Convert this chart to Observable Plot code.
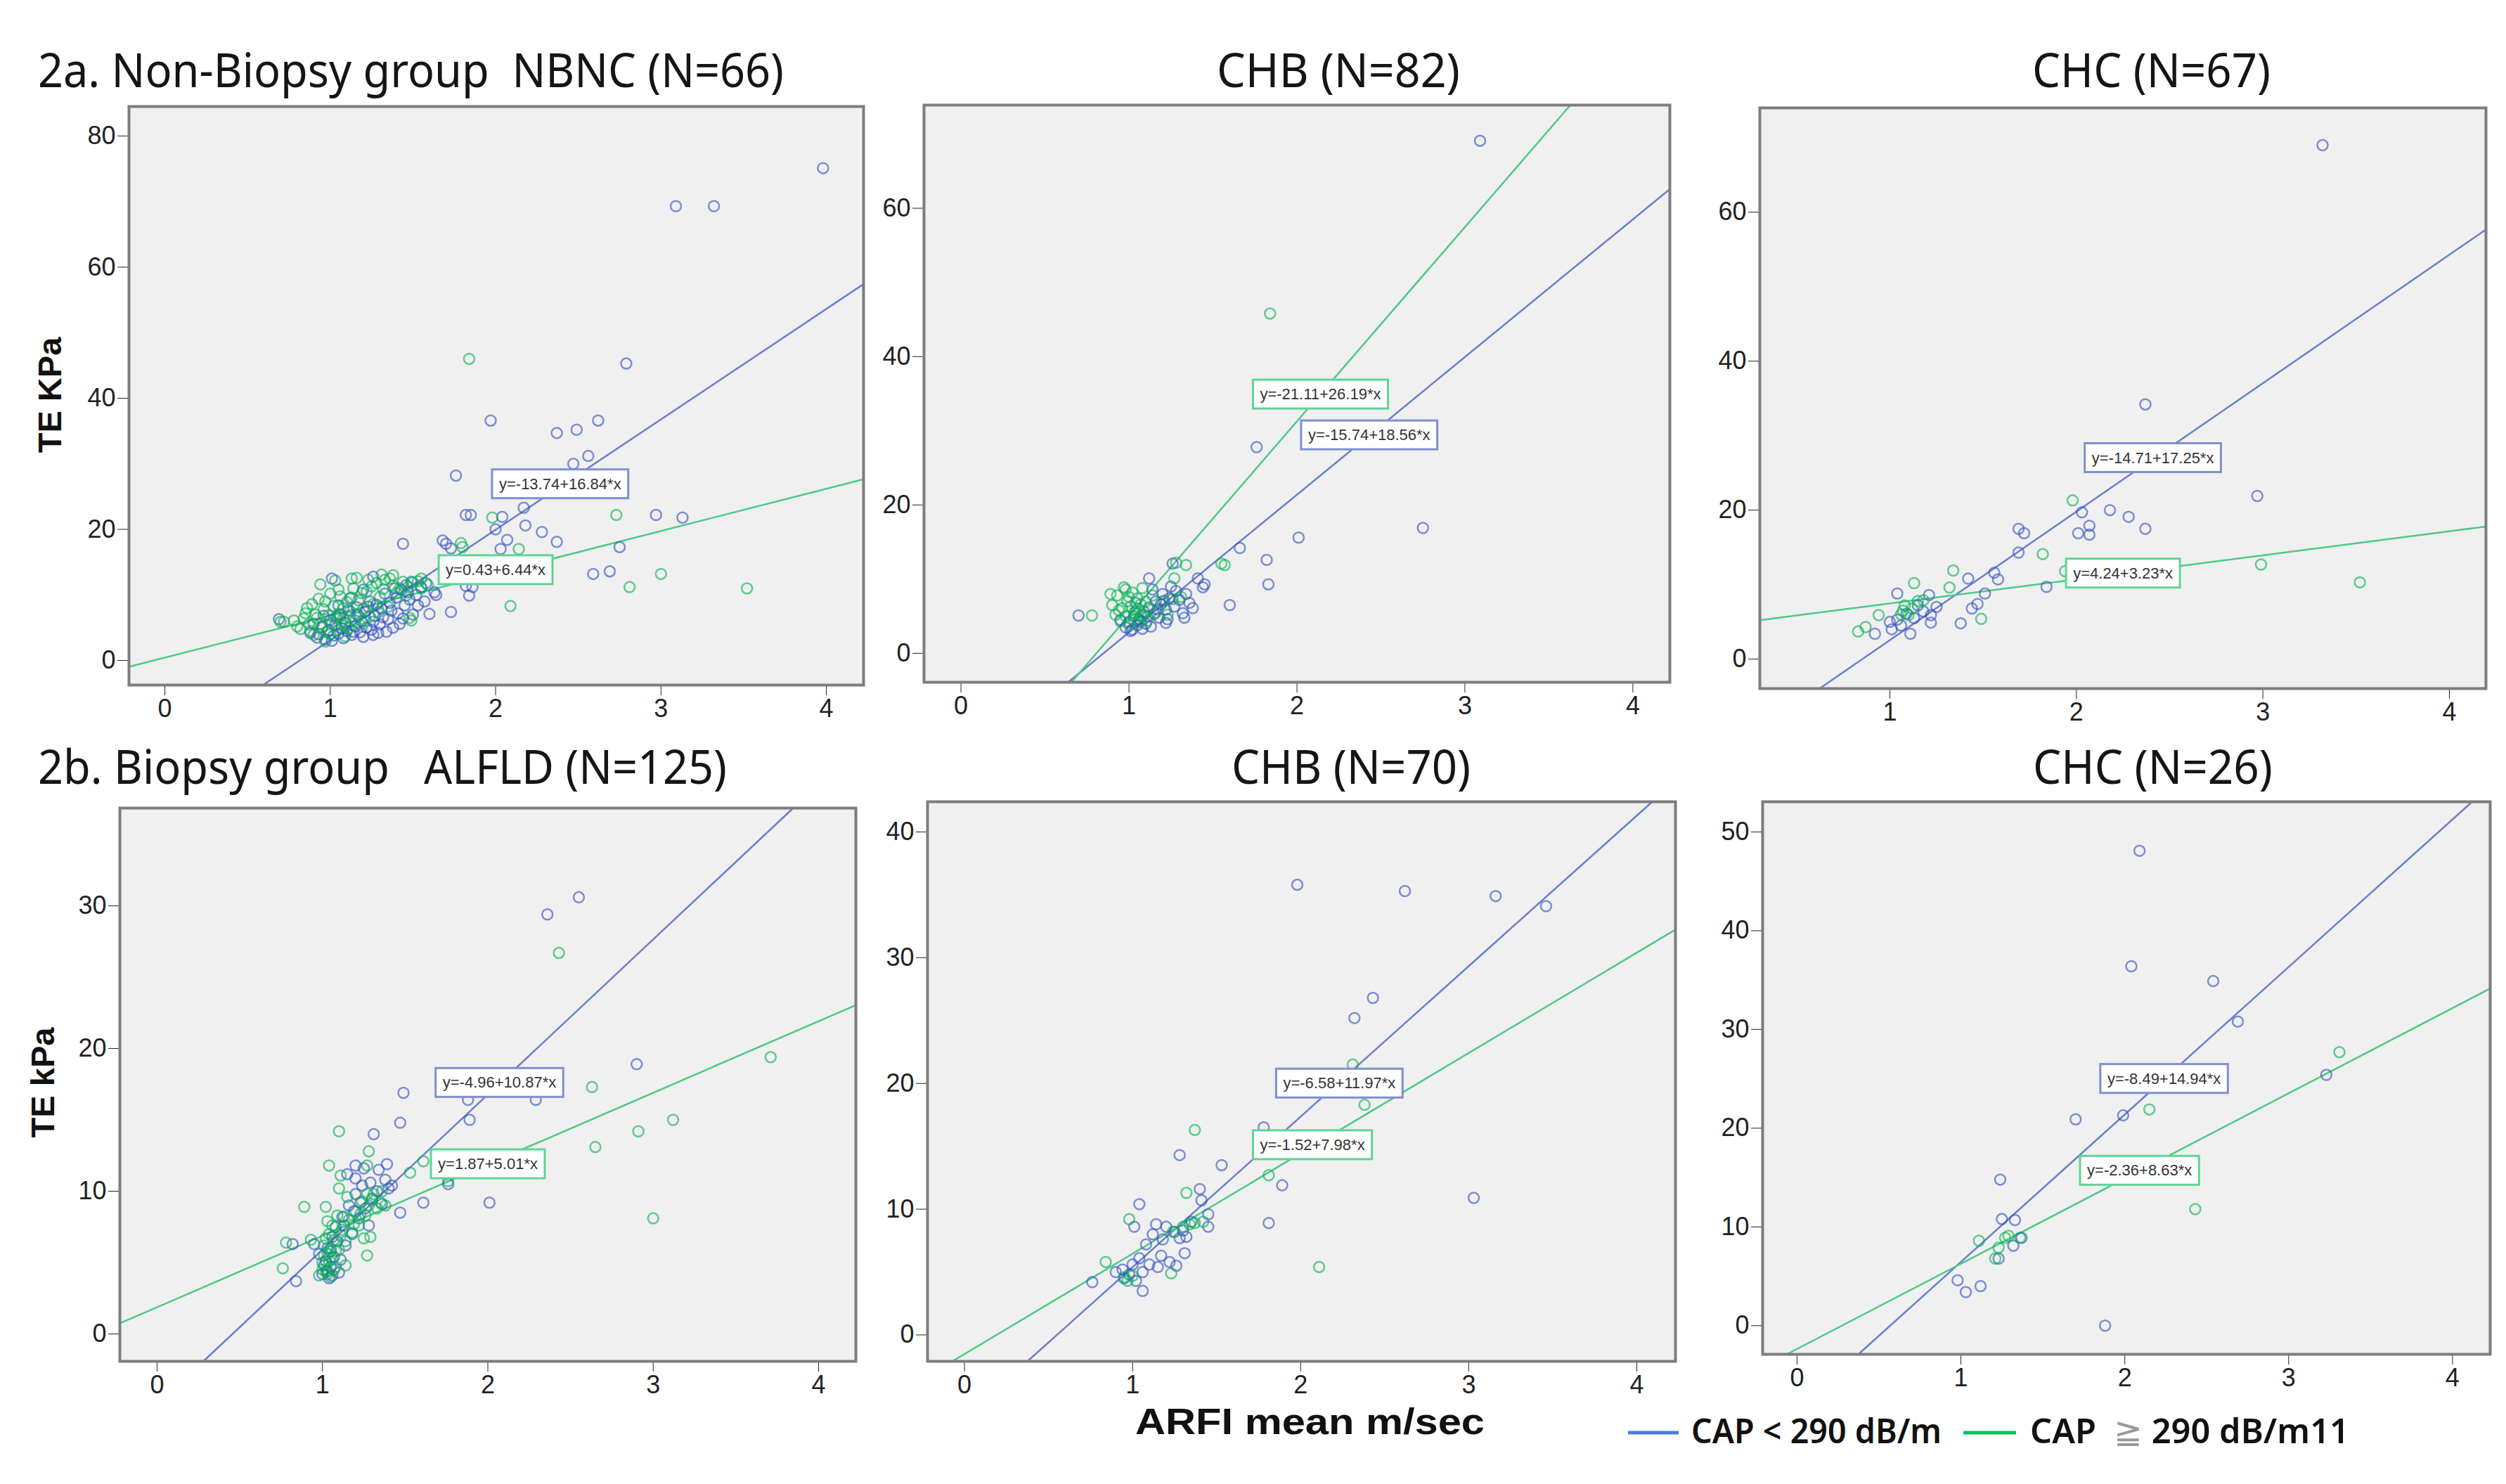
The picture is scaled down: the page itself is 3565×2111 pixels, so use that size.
<!DOCTYPE html>
<html><head><meta charset="utf-8">
<script src="https://cdn.jsdelivr.net/npm/d3@7"></script>
<script src="https://cdn.jsdelivr.net/npm/@observablehq/plot@0.6"></script>
<style>
body{margin:0;background:#fff}
#page{position:relative;width:3565px;height:2111px;overflow:hidden;background:#fff}
#page svg{position:absolute}
</style>
</head><body><div id="page"></div>
<script>
// ---------- data (ARFI mean m/sec, TE kPa) ----------
const xTicks = [0, 1, 2, 3, 4];
const xTicksCHC1 = [1, 2, 3, 4];

// 2a NBNC
const nbncBlue = [[3.98,75.1],[3.09,69.3],[3.32,69.3],[2.79,45.3],[1.97,36.6],[2.37,34.7],[2.49,35.2],[2.62,36.6],[2.56,31.2],[2.47,30.0],[1.76,28.2],[1.82,22.2],[1.85,22.2],[2.04,21.9],[2.17,23.3],[2.18,20.6],[2.28,19.6],[2.37,18.1],[2.97,22.2],[3.13,21.8],[2.75,17.3],[2.59,13.2],[2.69,13.6],[2.03,17.0],[2.07,18.4],[1.70,17.8],[1.73,17.1],[1.44,17.8],[1.84,9.9],[1.86,11.2],[1.64,10.0],[1.60,7.1],[1.73,7.4],[1.01,12.5],[1.26,12.8],[1.63,10.4],[1.82,11.4],[0.69,6.3],[1.68,18.3],[2.0,20.0],
[0.88,4.2],[0.92,3.5],[0.95,5.1],[0.97,3.2],[0.99,4.6],[1.0,6.2],[1.02,3.8],[1.03,5.4],[1.05,4.1],[1.06,7.0],[1.08,3.4],[1.09,5.8],[1.1,4.5],[1.12,6.6],[1.13,3.9],[1.15,5.2],[1.16,8.1],[1.18,4.3],[1.19,6.0],[1.21,7.4],[1.22,5.0],[1.24,9.0],[1.25,4.7],[1.27,6.8],[1.28,8.5],[1.3,5.5],[1.31,7.9],[1.33,10.2],[1.35,6.3],[1.36,8.8],[1.38,5.0],[1.4,9.6],[1.41,7.2],[1.43,10.8],[1.45,8.4],[1.46,11.5],[1.48,9.3],[1.5,7.0],[1.52,10.0],[1.55,11.2],[1.57,9.0],[1.12,9.5],[1.2,10.8],[1.26,3.9],[1.34,4.4],[1.42,5.6],[1.05,8.4],[0.96,6.8],
[0.9,5.6],[0.93,4.0],[1.01,3.0],[1.04,6.6],[1.07,4.9],[1.11,7.7],[1.14,4.4],[1.17,6.9],[1.2,3.6],[1.23,8.2],[1.26,5.9],[1.29,4.2],[1.32,6.6],[1.37,7.6],[1.39,11.0],[1.44,6.4],[1.47,10.4],[1.53,8.4],[1.58,11.8],[1.49,12.0]];
const nbncGreen = [[1.84,46.0],[1.98,21.8],[2.73,22.2],[2.14,17.0],[1.80,17.3],[3.0,13.2],[2.81,11.2],[3.52,11.0],[2.09,8.3],[1.55,11.0],[1.49,6.1],[1.13,12.5],[0.70,5.9],[1.79,17.9],[1.53,12.1],[1.48,6.5],[1.38,13.0],[1.31,13.1],
[0.72,5.9],[0.78,6.1],[0.82,4.8],[0.85,7.2],[0.87,5.5],[0.89,8.6],[0.9,3.9],[0.92,6.5],[0.93,9.4],[0.95,5.0],[0.96,7.8],[0.98,4.3],[0.99,6.9],[1.0,10.2],[1.01,5.7],[1.02,8.3],[1.04,4.6],[1.05,7.1],[1.06,9.8],[1.07,5.3],[1.08,6.4],[1.1,8.9],[1.11,4.9],[1.12,7.5],[1.14,11.0],[1.15,6.1],[1.17,9.2],[1.18,5.4],[1.2,7.9],[1.22,10.5],[1.24,6.7],[1.26,8.6],[1.28,11.8],[1.3,9.7],[1.33,12.3],[1.35,8.2],[1.38,11.4],[1.4,10.3],[1.44,12.0],[1.47,11.2],[1.5,11.9],[0.94,11.6],[1.03,12.2],[1.09,3.7],[0.97,2.9],
[0.8,5.2],[0.84,6.4],[0.86,8.0],[0.88,4.5],[0.91,7.0],[0.94,5.6],[0.97,9.0],[1.0,4.0],[1.03,6.5],[1.05,10.8],[1.08,8.0],[1.1,5.6],[1.13,9.6],[1.16,7.0],[1.19,10.3],[1.21,6.1],[1.25,11.3],[1.29,7.4],[1.32,10.9],[1.36,12.5],[1.42,11.0],[1.46,9.9],[1.55,12.5],[1.59,11.5],[1.16,12.6],[1.23,12.3]];

// 2a CHB
const chbABlue = [[3.09,69.1],[1.76,27.8],[2.01,15.6],[2.75,16.9],[1.82,12.6],[1.83,9.3],[1.66,14.2],[1.60,6.5],[1.44,8.9],[1.41,10.1],[1.12,10.1],[0.70,5.1],[1.33,4.8],[1.22,4.1],[1.38,6.1],[1.26,12.1],[1.45,9.3],
[0.98,3.5],[1.0,4.2],[1.02,3.2],[1.03,5.0],[1.05,3.8],[1.06,4.6],[1.08,3.3],[1.09,5.6],[1.1,4.0],[1.12,6.2],[1.13,3.6],[1.15,5.3],[1.16,7.0],[1.18,4.8],[1.19,6.6],[1.2,8.0],[1.22,5.9],[1.24,7.4],[1.25,9.0],[1.27,6.3],[1.28,8.4],[1.3,7.2],[1.32,5.4],[1.34,8.0],[1.36,6.8],[1.04,6.8],[0.95,4.5],[1.14,8.6],
[1.01,3.0],[1.07,4.3],[1.11,5.0],[1.17,5.9],[1.21,7.1],[1.23,4.6]];
const chbAGreen = [[1.84,45.8],[1.55,12.1],[1.57,11.9],[1.34,11.9],[1.27,10.1],[0.78,5.1],[0.89,8.0],[0.98,8.6],[1.28,12.2],[1.31,7.6],
[0.9,6.5],[0.92,5.2],[0.93,7.8],[0.95,4.3],[0.96,6.1],[0.97,8.9],[0.98,5.0],[0.99,7.0],[1.0,3.9],[1.01,6.3],[1.02,8.2],[1.03,4.6],[1.04,5.7],[1.05,7.4],[1.06,4.2],[1.07,6.6],[1.08,8.8],[1.09,5.2],[1.1,7.0],[1.11,4.4],[1.12,6.0],[1.14,7.8],[1.16,5.5],[1.2,6.9],[1.23,5.2],[1.26,7.3],
[0.94,5.8],[1.0,7.6],[1.03,5.4],[1.05,6.0],[1.07,5.0]];

// 2a CHC
const chcABlue = [[3.32,69.0],[2.37,34.2],[2.97,21.9],[2.03,19.7],[2.18,20.0],[2.28,19.1],[2.37,17.5],[2.07,17.9],[2.01,16.9],[2.07,16.7],[1.69,17.5],[1.72,16.9],[1.69,14.3],[1.58,10.7],[1.56,11.6],[1.84,9.7],[1.42,10.8],[1.51,8.8],[1.44,6.8],[1.38,4.8],[1.04,8.8],[1.21,8.6],[1.22,5.9],[1.22,4.9],[0.92,3.4],[1.01,4.0],[1.11,3.4],[1.04,5.3],[1.15,7.2],[1.06,4.5],[1.09,6.1],[1.18,6.4],[1.0,5.0],[1.13,5.5],[1.25,7.0],[1.47,7.4]];
const chcAGreen = [[1.98,21.3],[1.82,14.1],[1.94,11.8],[2.99,12.7],[3.52,10.3],[1.34,11.9],[1.32,9.6],[1.13,10.2],[1.49,5.4],[0.94,5.9],[0.87,4.3],[0.83,3.7],[1.07,6.5],[1.10,5.9],[1.15,7.8],[1.18,7.9],[1.08,7.2],[1.06,6.0],[1.12,6.8]];

// 2b ALFLD
const alfldBlue = [[2.55,30.6],[2.36,29.4],[2.90,18.9],[2.29,16.4],[1.88,16.4],[1.49,16.9],[1.47,14.8],[1.89,15.0],[1.31,14.0],[2.01,9.2],[1.76,10.5],[1.61,9.2],[1.47,8.5],[1.39,11.9],[1.20,11.8],[1.20,10.9],[0.82,6.3],[0.84,3.7],[1.40,10.2],
[1.0,4.2],[1.02,5.1],[1.03,6.0],[1.04,3.9],[1.05,4.7],[1.06,6.8],[1.07,5.4],[1.08,7.5],[1.1,4.3],[1.12,8.2],[1.14,6.2],[1.16,9.0],[1.18,7.0],[1.2,9.8],[1.22,8.1],[1.24,10.4],[1.26,8.8],[1.28,7.6],[1.3,9.5],[1.33,10.0],[1.36,9.1],[1.38,10.8],[0.95,6.3],[0.98,5.6],[1.15,11.2],[1.25,11.6],
[1.01,4.8],[1.03,4.4],[1.05,5.8],[1.06,4.1],[1.09,6.5],[1.11,5.2],[1.13,7.6],[1.19,8.6],[1.23,9.2],[1.29,10.6],[1.34,11.5],[1.42,10.4]];
const alfldGreen = [[2.43,26.7],[2.63,17.3],[3.71,19.4],[3.12,15.0],[2.91,14.2],[2.65,13.1],[3.00,8.1],[1.10,14.2],[1.04,11.8],[1.28,12.8],[1.27,11.8],[1.53,11.3],[1.61,12.1],[1.10,10.2],[1.11,11.1],[0.89,8.9],[0.76,4.6],[0.78,6.4],[1.27,5.5],[1.76,10.7],
[0.98,4.1],[1.0,5.0],[1.01,6.2],[1.02,4.4],[1.03,5.6],[1.04,7.0],[1.05,4.0],[1.06,5.3],[1.07,6.6],[1.08,4.7],[1.09,8.3],[1.1,5.9],[1.12,7.3],[1.14,6.5],[1.16,8.0],[1.18,7.1],[1.2,8.6],[1.22,7.6],[1.24,9.3],[1.26,8.3],[1.28,9.0],[1.3,9.4],[1.33,8.8],[1.35,9.2],[1.38,9.0],[1.02,8.9],[0.93,6.6],[1.14,4.8],[1.25,6.7],[1.29,6.8],
[1.0,4.5],[1.01,5.5],[1.02,6.7],[1.03,4.2],[1.04,5.1],[1.05,6.0],[1.06,7.6],[1.07,4.5],[1.08,5.8],[1.03,7.9],[1.11,6.9],[1.13,8.2],[1.19,7.7],[1.23,8.4],[1.31,9.8],[1.36,10.0],[1.15,9.6],[1.27,9.8]];

// 2b CHB
const chbBBlue = [[1.98,35.8],[2.62,35.3],[3.16,34.9],[3.46,34.1],[2.43,26.8],[2.32,25.2],[1.89,11.9],[3.03,10.9],[1.81,8.9],[1.53,13.5],[1.28,14.3],[1.40,11.6],[1.41,10.7],[1.04,10.4],[1.45,9.6],[1.45,8.6],[1.14,8.8],[1.01,8.6],[1.31,6.5],[1.17,6.3],[1.06,3.5],[0.76,4.2],[0.94,5.2],[1.78,16.5],
[0.9,5.0],[0.95,4.5],[0.98,4.8],[1.0,5.6],[1.02,4.3],[1.04,6.1],[1.06,5.0],[1.08,7.2],[1.1,5.6],[1.12,8.0],[1.15,5.4],[1.18,7.6],[1.2,8.6],[1.22,5.8],[1.25,8.2],[1.28,7.7],[1.3,8.3],[1.32,7.8],[1.35,9.0],[1.26,5.5]];
const chbBGreen = [[1.37,16.3],[2.38,18.3],[2.31,21.5],[2.11,5.4],[1.81,12.7],[1.32,11.3],[0.98,9.2],[0.84,5.8],[1.23,4.9],[1.34,8.8],[1.37,8.9],[0.95,4.6],[0.97,4.3],[1.0,4.7],[1.24,8.2],[1.3,8.6],[1.42,9.0]];

// 2b CHC
const chcBBlue = [[2.09,48.1],[2.04,36.4],[2.54,34.9],[2.69,30.8],[3.23,25.4],[1.99,21.3],[1.70,20.9],[1.24,14.8],[1.25,10.8],[1.33,10.7],[1.32,8.1],[1.37,8.9],[0.98,4.6],[1.03,3.4],[1.12,4.0],[1.88,0.0],[1.23,6.8]];
const chcBGreen = [[3.31,27.7],[2.15,21.9],[2.43,11.8],[1.11,8.6],[1.29,9.1],[1.27,8.9],[1.21,6.8],[1.23,7.9],[1.36,8.9]];

// regression fits [intercept, slope] (CAP<290 blue, CAP>=290 green)
const fitBlue  = [[-13.74,16.84],[-15.74,18.56],[-14.71,17.25],[-4.96,10.87],[-6.58,11.97],[-8.49,14.94]];
const fitGreen = [[0.43,6.44],[-21.11,26.19],[4.24,3.23],[1.87,5.01],[-1.52,7.98],[-2.36,8.63]];
const eqBlue  = ["y=-13.74+16.84*x","y=-15.74+18.56*x","y=-14.71+17.25*x","y=-4.96+10.87*x","y=-6.58+11.97*x","y=-8.49+14.94*x"];
const eqGreen = ["y=0.43+6.44*x","y=-21.11+26.19*x","y=4.24+3.23*x","y=1.87+5.01*x","y=-1.52+7.98*x","y=-2.36+8.63*x"];
// label anchor (data units)
const eqBluePos  = [[2.39,26.9],[2.43,29.4],[2.41,27.0],[2.07,17.6],[2.23,20.0],[2.24,25.0]];
const eqGreenPos = [[2.0,13.8],[2.14,34.9],[2.25,11.5],[2.0,11.9],[2.07,15.1],[2.09,15.7]];

const yTicks = [[0,20,40,60,80],[0,20,40,60],[0,20,40,60],[0,10,20,30],[0,10,20,30,40],[0,10,20,30,40,50]];
const titleText = ["2a. Non-Biopsy group  NBNC (N=66)","CHB (N=82)","CHC (N=67)","2b. Biopsy group   ALFLD (N=125)","CHB (N=70)","CHC (N=26)"];

// ---------- layout ----------
const BLUE = "#2f4fbf", GREEN = "#00b050", LBLUE = "#6a7fcc", LGREEN = "#4cca86", BG = "#f0f0f0";
const panels = [
  {frame:[183,151,1228,974],  xdom:[-0.217,4.225], ydom:[-3.75,84.5], xt:xTicks, blue:nbncBlue, green:nbncGreen},
  {frame:[1314,149,2375,970], xdom:[-0.22,4.22],   ydom:[-3.9,73.9],  xt:xTicks, blue:chbABlue, green:chbAGreen},
  {frame:[2503,153,3536,979], xdom:[0.303,4.196],  ydom:[-3.96,74.0], xt:xTicksCHC1, blue:chcABlue, green:chcAGreen},
  {frame:[170,1149,1217,1936],xdom:[-0.225,4.225], ydom:[-1.92,36.85],xt:xTicks, blue:alfldBlue, green:alfldGreen},
  {frame:[1319,1140,2383,1936],xdom:[-0.22,4.23],  ydom:[-2.1,42.4],  xt:xTicks, blue:chbBBlue, green:chbBGreen},
  {frame:[2507,1140,3542,1926],xdom:[-0.21,4.23],  ydom:[-2.9,53.06], xt:xTicks, blue:chcBBlue, green:chcBGreen}
];

function clipLine([a,b],[x0,x1],[y0,y1]){
  let xa=x0, xb=x1;
  if (b!==0){ const u=(y0-a)/b, v=(y1-a)/b; xa=Math.max(xa,Math.min(u,v)); xb=Math.min(xb,Math.max(u,v)); }
  return [{x:xa,y:a+b*xa},{x:xb,y:a+b*xb}];
}
const pts = arr => arr.map(([x,y])=>({x,y}));
const page = document.getElementById("page");
const NS = "http://www.w3.org/2000/svg";

panels.forEach((p,i)=>{
  const [L,T,R,B] = p.frame;
  const mL=110,mR=8,mT=8,mB=80;
  const chart = Plot.plot({
    width:R-L+mL+mR, height:B-T+mT+mB,
    marginLeft:mL, marginRight:mR, marginTop:mT, marginBottom:mB,
    x:{domain:p.xdom, ticks:p.xt, tickSize:15, tickPadding:5, label:null, tickFormat:d=>String(d)},
    y:{domain:p.ydom, ticks:yTicks[i], tickSize:16, tickPadding:3, label:null, tickFormat:d=>String(d)},
    style:{fontSize:"36px", fontFamily:"'Liberation Sans', Arial, sans-serif", color:"#222", background:"transparent", overflow:"visible"},
    marks:[
      Plot.frame({fill:BG, stroke:"none"}),
      Plot.line(clipLine(fitBlue[i],p.xdom,p.ydom),{x:"x",y:"y",stroke:LBLUE,strokeWidth:2.5}),
      Plot.line(clipLine(fitGreen[i],p.xdom,p.ydom),{x:"x",y:"y",stroke:LGREEN,strokeWidth:2.5}),
      Plot.dot(pts(p.blue),{x:"x",y:"y",r:7.5,stroke:BLUE,strokeOpacity:0.6,strokeWidth:2.5,fill:"none"}),
      Plot.dot(pts(p.green),{x:"x",y:"y",r:7.5,stroke:GREEN,strokeOpacity:0.6,strokeWidth:2.5,fill:"none"}),
      Plot.text([{x:eqBluePos[i][0],y:eqBluePos[i][1],t:eqBlue[i]}],{x:"x",y:"y",text:"t",fontSize:22,fill:"#333",fontFamily:"'Liberation Sans', Arial",ariaDescription:"eq-blue"}),
      Plot.text([{x:eqGreenPos[i][0],y:eqGreenPos[i][1],t:eqGreen[i]}],{x:"x",y:"y",text:"t",fontSize:22,fill:"#333",fontFamily:"'Liberation Sans', Arial",ariaDescription:"eq-green"}),
      Plot.frame({stroke:"#7d7d7d", strokeWidth:4})
    ]
  });
  chart.style.left=(L-mL)+"px"; chart.style.top=(T-mT)+"px";
  page.appendChild(chart);
  // draw white boxes behind the equation labels
  let groups = [chart.querySelector('g[aria-description="eq-blue"]'), chart.querySelector('g[aria-description="eq-green"]')];
  if (!groups[0] || !groups[1]) { const g = chart.querySelectorAll('g[aria-label="text"]'); groups = [g[0], g[1]]; }
  [[groups[0],"#7f8fd2"],[groups[1],"#5fd496"]].forEach(([g,col])=>{
    if (!g) return;
    g.querySelectorAll("text").forEach(t=>{
      const bb=t.getBBox();
      const r=document.createElementNS(NS,"rect");
      r.setAttribute("x",bb.x-10); r.setAttribute("y",bb.y-8);
      r.setAttribute("width",bb.width+20); r.setAttribute("height",bb.height+16);
      r.setAttribute("fill","#fff"); r.setAttribute("stroke",col); r.setAttribute("stroke-width",3);
      const tr=t.getAttribute("transform"); if(tr) r.setAttribute("transform",tr);
      t.parentNode.insertBefore(r,t);
    });
  });
});

// ---------- overlay texts: titles, axis labels, legend ----------
const titlePos = [[54,124,1061],[1731,124,346],[2891,124,339],[54,1115,980],[1752,1115,340],[2892,1115,341]];
let ov = `<svg xmlns="${NS}" width="3565" height="2111" style="left:0;top:0;pointer-events:none">`;
titleText.forEach((s,i)=>{
  const [x,y,len]=titlePos[i];
  ov += `<text x="${x}" y="${y}" textLength="${len}" lengthAdjust="spacingAndGlyphs" style="white-space:pre" font-family="'Noto Sans', sans-serif" font-size="67" fill="#151515">${s}</text>`;
});
ov += `<text transform="translate(70,562) rotate(-90)" text-anchor="middle" dominant-baseline="central" font-family="'Liberation Sans', Arial" font-weight="bold" font-size="47" fill="#111">TE KPa</text>`;
ov += `<text transform="translate(60,1540) rotate(-90)" text-anchor="middle" dominant-baseline="central" font-family="'Liberation Sans', Arial" font-weight="bold" font-size="47" fill="#111">TE kPa</text>`;
ov += `<text x="1615" y="2040" textLength="497" lengthAdjust="spacingAndGlyphs" font-family="'Liberation Sans', Arial" font-weight="bold" font-size="52" fill="#111">ARFI mean m/sec</text>`;
ov += `<line x1="2316" x2="2388" y1="2038" y2="2038" stroke="#4a7fd4" stroke-width="5"/>`;
ov += `<text x="2406" y="2053" textLength="356" lengthAdjust="spacingAndGlyphs" font-family="'Noto Sans', sans-serif" font-weight="600" font-size="48" fill="#111">CAP &lt; 290 dB/m</text>`;
ov += `<line x1="2793" x2="2868" y1="2038" y2="2038" stroke="#00c060" stroke-width="5"/>`;
ov += `<text x="2888" y="2053" textLength="454" lengthAdjust="spacingAndGlyphs" style="white-space:pre" font-family="'Noto Sans', sans-serif" font-weight="600" font-size="48" fill="#111">CAP  <tspan fill="#999" font-weight="normal">≧</tspan> 290 dB/m11</text>`;
ov += `</svg>`;
page.insertAdjacentHTML("beforeend", ov);
</script>
</body></html>
